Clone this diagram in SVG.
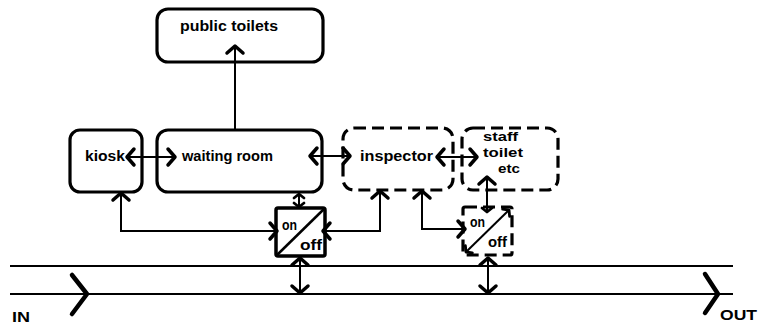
<svg xmlns="http://www.w3.org/2000/svg" width="758" height="334" viewBox="0 0 758 334">
<style>
.box{fill:none;stroke:#000;stroke-width:3.2}
.dash{fill:none;stroke:#000;stroke-width:3.2;stroke-dasharray:12 6}
.con{fill:none;stroke:#000;stroke-width:2}
.trk{fill:none;stroke:#000;stroke-width:1.8}
.chev{fill:none;stroke:#000;stroke-width:4.5;stroke-linecap:round;stroke-linejoin:round}
text{font-family:"Liberation Sans","DejaVu Sans",sans-serif;font-weight:bold;font-size:15px;fill:#000}
.sm{font-size:13px}
</style>
<defs>
<marker id="ch" viewBox="-10 -10 12 20" refX="0" refY="0" markerWidth="12" markerHeight="20" markerUnits="userSpaceOnUse" orient="auto-start-reverse" overflow="visible">
<path d="M-7,-8 L0,0 L-7,8" fill="none" stroke="#000" stroke-width="3.5" stroke-linecap="round" stroke-linejoin="round"/>
</marker>
<marker id="chs" viewBox="-10 -10 12 20" refX="0" refY="0" markerWidth="12" markerHeight="20" markerUnits="userSpaceOnUse" orient="auto-start-reverse" overflow="visible">
<path d="M-4,-5 L0,0 L-4,5" fill="none" stroke="#000" stroke-width="2.8" stroke-linecap="round" stroke-linejoin="round"/>
</marker>
</defs>
<g id="track">
<line class="trk" x1="10" y1="266" x2="733" y2="266"/>
<line class="trk" x1="10" y1="294" x2="733" y2="294"/>
<path class="chev" d="M72,275 L87,294 L72,314"/>
<path class="chev" d="M705,274 L718,294 L705,313"/>
<text x="12" y="322" textLength="18" lengthAdjust="spacingAndGlyphs">IN</text>
<text x="720" y="320" font-size="14" textLength="37" lengthAdjust="spacingAndGlyphs">OUT</text>
</g>
<g id="public-toilets">
<rect class="box" x="157" y="9" width="166" height="53" rx="11"/>
<text x="180" y="31" textLength="98" lengthAdjust="spacingAndGlyphs">public toilets</text>
</g>
<g id="kiosk">
<rect class="box" x="70" y="130" width="72" height="62" rx="10"/>
<text x="85" y="161" textLength="40" lengthAdjust="spacingAndGlyphs">kiosk</text>
</g>
<g id="waiting-room">
<rect class="box" x="157" y="130" width="165" height="62" rx="11"/>
<text x="182" y="161" textLength="91" lengthAdjust="spacingAndGlyphs">waiting room</text>
</g>
<g id="inspector">
<rect class="dash" x="343" y="128" width="110" height="62" rx="11"/>
<text x="360" y="161" textLength="73" lengthAdjust="spacingAndGlyphs">inspector</text>
</g>
<g id="staff-toilet">
<rect class="dash" x="462" y="128" width="96" height="62" rx="11"/>
<text class="sm" x="483" y="141" textLength="35" lengthAdjust="spacingAndGlyphs">staff</text>
<text class="sm" x="483" y="157" textLength="40" lengthAdjust="spacingAndGlyphs">toilet</text>
<text class="sm" x="498" y="173" textLength="22" lengthAdjust="spacingAndGlyphs">etc</text>
</g>
<g id="switch-1">
<rect x="276" y="208" width="49" height="48" rx="2" fill="none" stroke="#000" stroke-width="3.5"/>
<line x1="277" y1="255" x2="324" y2="209" stroke="#000" stroke-width="2.5"/>
<text x="282" y="230" font-size="14" textLength="15" lengthAdjust="spacingAndGlyphs">on</text>
<text x="300" y="250" font-size="14" textLength="22" lengthAdjust="spacingAndGlyphs">off</text>
</g>
<g id="switch-2">
<rect class="dash" x="463" y="207" width="49" height="48" rx="2" stroke-dasharray="10 5"/>
<line class="con" x1="466" y1="252" x2="509" y2="210" stroke-width="2.5" marker-start="url(#chs)" marker-end="url(#chs)"/>
<text x="470" y="227" font-size="14" textLength="15" lengthAdjust="spacingAndGlyphs">on</text>
<text x="488" y="247" font-size="14" textLength="19" lengthAdjust="spacingAndGlyphs">off</text>
</g>
<g id="connectors">
<path class="con" d="M235,130 V46" marker-end="url(#ch)"/>
<path class="con" d="M127,157 H175" marker-start="url(#ch)" marker-end="url(#ch)"/>
<path class="con" d="M310,156 H350" marker-start="url(#ch)" marker-end="url(#ch)"/>
<path class="con" d="M437,157 H477" marker-start="url(#ch)" marker-end="url(#ch)"/>
<path class="con" d="M121,193 V231 H277" marker-start="url(#ch)" marker-end="url(#ch)"/>
<path class="con" d="M323,231 H380 V191" marker-start="url(#ch)" marker-end="url(#ch)"/>
<path class="con" d="M299,194 V207" marker-start="url(#chs)" marker-end="url(#chs)"/>
<path class="con" d="M300,258 V293" marker-start="url(#ch)" marker-end="url(#ch)"/>
<path class="con" d="M422,191 V229 H465" marker-start="url(#ch)" marker-end="url(#ch)"/>
<path class="con" d="M487,177 V212" marker-start="url(#ch)" marker-end="url(#chs)"/>
<path class="con" d="M488,258 V293" marker-start="url(#ch)" marker-end="url(#ch)"/>
</g>
</svg>
